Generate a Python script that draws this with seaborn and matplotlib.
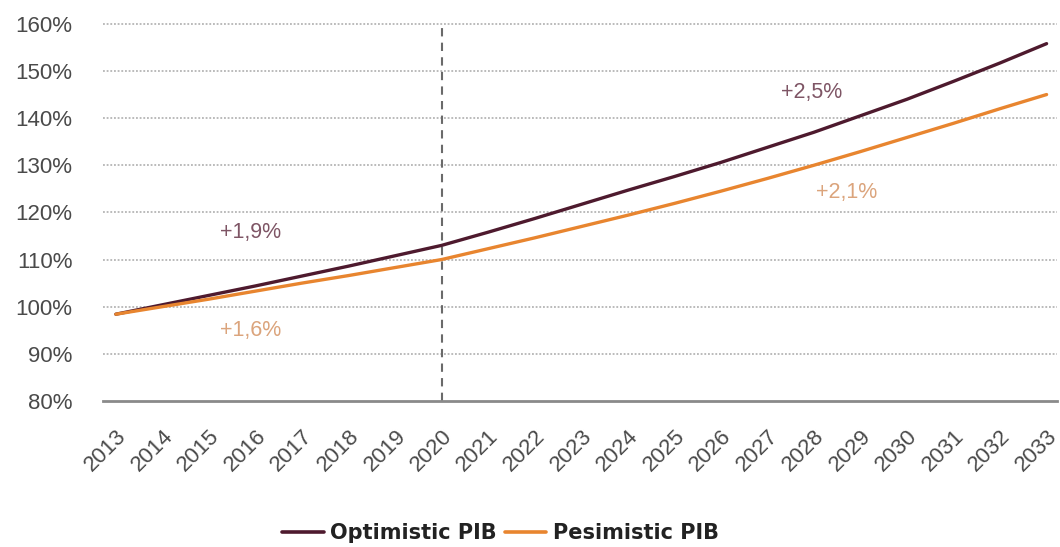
import matplotlib
matplotlib.use("Agg")
import matplotlib.pyplot as plt
import seaborn as sns
import pandas as pd
from matplotlib.lines import Line2D

# GDP index (2013 = ~100%) under two growth scenarios
years = list(range(2013, 2034))
optimistic = [98.4, 100.4, 102.4, 104.4, 106.5, 108.6, 110.8, 113.0, 115.8, 118.7,
              121.7, 124.7, 127.6, 130.6, 133.8, 137.0, 140.5, 144.0, 147.8, 151.7, 155.8]
pessimistic = [98.4, 100.0, 101.6, 103.3, 105.0, 106.6, 108.3, 110.0, 112.3, 114.6,
               117.0, 119.4, 121.9, 124.5, 127.2, 130.0, 132.9, 135.9, 138.9, 142.0, 145.0]
series_names = ["Optimistic PIB", "Pesimistic PIB"]
y_ticks = [80, 90, 100, 110, 120, 130, 140, 150, 160]
split_year = 2020

# Average growth labels: (text, x, y, series)
growth_labels = [
    ("+1,9%", 2015.9, 115.8, 0),
    ("+1,6%", 2015.9, 95.0, 1),
    ("+2,5%", 2027.95, 145.4, 0),
    ("+2,1%", 2028.7, 124.2, 1),
]

line_colors = ["#4e1a2e", "#e8852f"]
label_colors = ["#7e5565", "#dba47c"]

df = pd.DataFrame({
    "year": years * 2,
    "value": optimistic + pessimistic,
    "scenario": [series_names[0]] * len(years) + [series_names[1]] * len(years),
})

sns.set_theme(style="white")
plt.rcParams["font.family"] = ["Liberation Sans", "DejaVu Sans"]

fig = plt.figure(figsize=(10.6, 5.47), dpi=100)
ax = fig.add_axes([0.097, 0.267, 0.900, 0.692])

sns.lineplot(data=df, x="year", y="value", hue="scenario",
             palette=dict(zip(series_names, line_colors)),
             linewidth=2.4, ax=ax, legend=False, zorder=3)

ax.set_xlim(2012.72, 2033.22)
ax.set_ylim(80, 160.3)
ax.set_yticks(y_ticks)
ax.set_yticklabels([f"{v}%" for v in y_ticks], fontsize=16, color="#4a4a4a")
ax.set_xticks(years)
ax.set_xticklabels([str(y) for y in years], fontsize=16, color="#4a4a4a",
                   rotation=45, ha="right", rotation_mode="anchor")
ax.tick_params(axis="both", length=0)
ax.tick_params(axis="x", pad=18)
ax.tick_params(axis="y", pad=22)
ax.set_xlabel("")
ax.set_ylabel("")

# Dotted horizontal grid
for v in y_ticks[1:]:
    ax.axhline(v, color="#a8a8a8", linestyle=(0, (1.2, 1.2)), linewidth=1.1, zorder=1)

for s in ["top", "right", "left"]:
    ax.spines[s].set_visible(False)
ax.spines["bottom"].set_color("#8a8a8a")
ax.spines["bottom"].set_linewidth(2)

# Forecast split marker
ax.axvline(split_year, color="#6a6a6a", linestyle=(0, (4, 3)), linewidth=1.5, zorder=2)

for text, x, y, idx in growth_labels:
    ax.text(x, y, text, color=label_colors[idx], fontsize=15.5, ha="center", va="center")

handles = [Line2D([], [], color=c, linewidth=2.6) for c in line_colors]
fig.legend(handles, series_names, loc="center", bbox_to_anchor=(0.472, 0.025),
           ncol=2, frameon=False, handlelength=2.0, handletextpad=0.3,
           columnspacing=0.4, prop={"family": "DejaVu Sans", "weight": "bold", "size": 15},
           labelcolor="#222222")

fig.savefig("out.png", dpi=100, facecolor="white")
